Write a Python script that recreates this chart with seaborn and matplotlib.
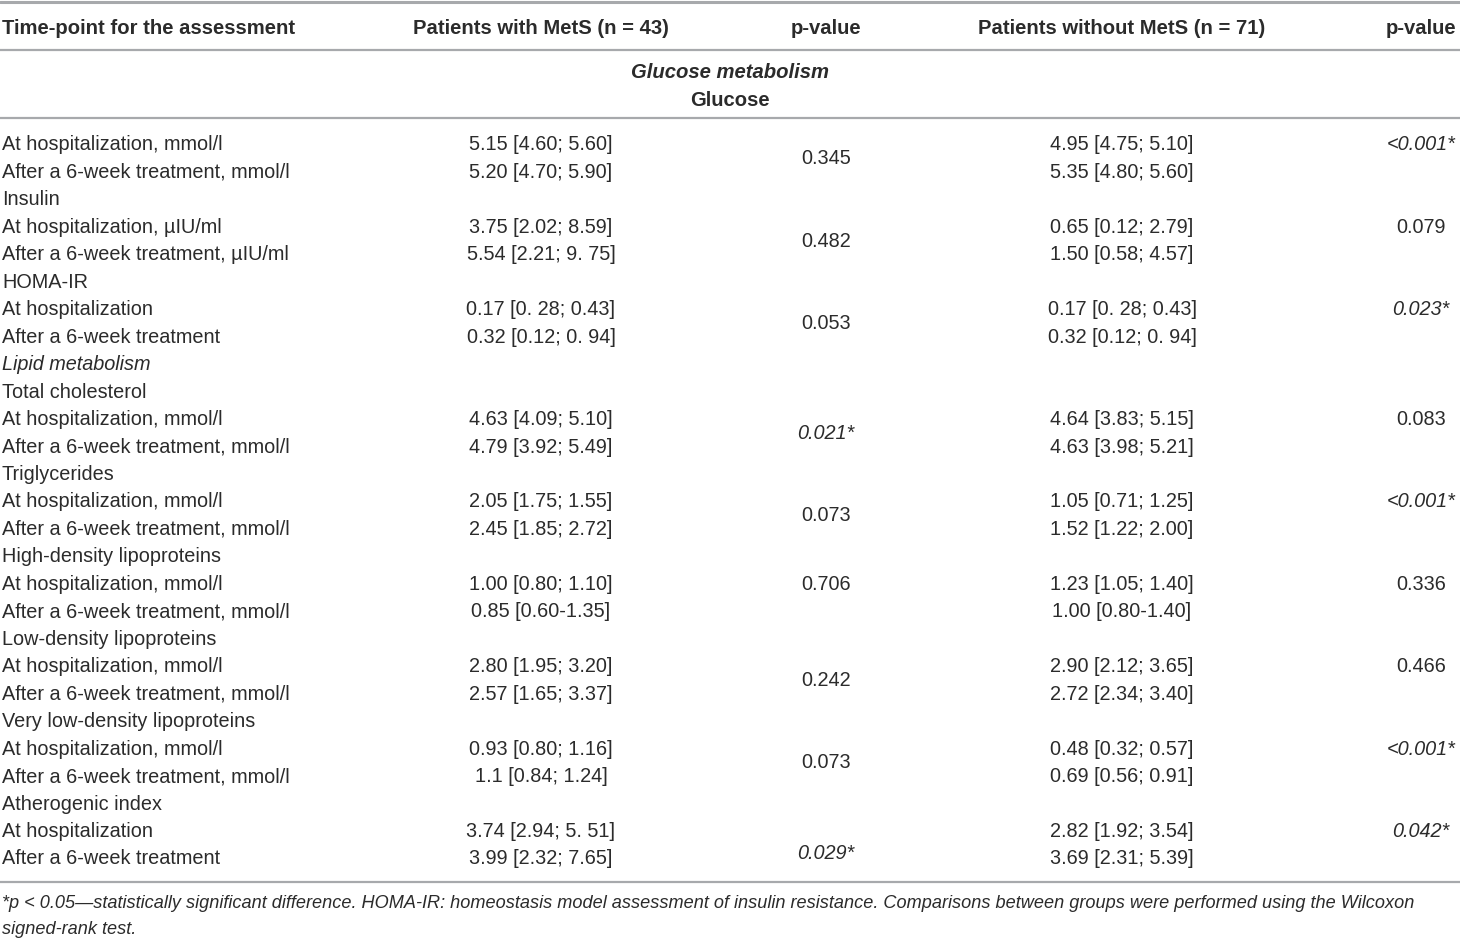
import matplotlib
matplotlib.use("Agg")
import matplotlib.pyplot as plt
import seaborn as sns

sns.set_theme(style="white")
plt.rcParams["font.family"] = ["Liberation Sans", "DejaVu Sans"]

# table content
headers = ["Time-point for the assessment", "Patients with MetS (n = 43)", "p-value",
           "Patients without MetS (n = 71)", "p-value"]

labels = [
    "At hospitalization, mmol/l", "After a 6-week treatment, mmol/l", "Insulin",
    "At hospitalization, µIU/ml", "After a 6-week treatment, µIU/ml", "HOMA-IR",
    "At hospitalization", "After a 6-week treatment", "Lipid metabolism",
    "Total cholesterol", "At hospitalization, mmol/l", "After a 6-week treatment, mmol/l",
    "Triglycerides", "At hospitalization, mmol/l", "After a 6-week treatment, mmol/l",
    "High-density lipoproteins", "At hospitalization, mmol/l", "After a 6-week treatment, mmol/l",
    "Low-density lipoproteins", "At hospitalization, mmol/l", "After a 6-week treatment, mmol/l",
    "Very low-density lipoproteins", "At hospitalization, mmol/l", "After a 6-week treatment, mmol/l",
    "Atherogenic index", "At hospitalization", "After a 6-week treatment",
]
with_mets = [
    "5.15 [4.60; 5.60]", "5.20 [4.70; 5.90]", "",
    "3.75 [2.02; 8.59]", "5.54 [2.21; 9. 75]", "",
    "0.17 [0. 28; 0.43]", "0.32 [0.12; 0. 94]", "",
    "", "4.63 [4.09; 5.10]", "4.79 [3.92; 5.49]",
    "", "2.05 [1.75; 1.55]", "2.45 [1.85; 2.72]",
    "", "1.00 [0.80; 1.10]", "0.85 [0.60-1.35]",
    "", "2.80 [1.95; 3.20]", "2.57 [1.65; 3.37]",
    "", "0.93 [0.80; 1.16]", "1.1 [0.84; 1.24]",
    "", "3.74 [2.94; 5. 51]", "3.99 [2.32; 7.65]",
]
without_mets = [
    "4.95 [4.75; 5.10]", "5.35 [4.80; 5.60]", "",
    "0.65 [0.12; 2.79]", "1.50 [0.58; 4.57]", "",
    "0.17 [0. 28; 0.43]", "0.32 [0.12; 0. 94]", "",
    "", "4.64 [3.83; 5.15]", "4.63 [3.98; 5.21]",
    "", "1.05 [0.71; 1.25]", "1.52 [1.22; 2.00]",
    "", "1.23 [1.05; 1.40]", "1.00 [0.80-1.40]",
    "", "2.90 [2.12; 3.65]", "2.72 [2.34; 3.40]",
    "", "0.48 [0.32; 0.57]", "0.69 [0.56; 0.91]",
    "", "2.82 [1.92; 3.54]", "3.69 [2.31; 5.39]",
]
# p-values: (row position, text, significant)
p_with = [(0.5, "0.345", False), (3.5, "0.482", False), (6.5, "0.053", False),
          (10.5, "0.021*", True), (13.5, "0.073", False), (16, "0.706", False),
          (19.5, "0.242", False), (22.5, "0.073", False), (25.8, "0.029*", True)]
p_without = [(0, "<0.001*", True), (3, "0.079", False), (6, "0.023*", True),
             (10, "0.083", False), (13, "<0.001*", True), (16, "0.336", False),
             (19, "0.466", False), (22, "<0.001*", True), (25, "0.042*", True)]
footnote = ["*p < 0.05\u2014statistically significant difference. HOMA-IR: homeostasis model assessment of insulin resistance. Comparisons between groups were performed using the Wilcoxon",
            "signed-rank test."]

W, H = 1460, 938
fig = plt.figure(figsize=(W / 100, H / 100), dpi=100)
ax = fig.add_axes([0, 0, 1, 1])
ax.set_xlim(0, W)
ax.set_ylim(H, 0)
ax.axis("off")

txt = "#2b2b2b"
fs = 14.3
fs_head = 14.6
col_x = [2, 541, 826, 1122, 1421]
row0, step = 145, 27.46

def ry(i):
    return row0 + i * step

# rules
for y, lw in [(2, 2.2), (50, 1.6), (118, 1.6), (882, 1.6)]:
    ax.axhline(y, color="#a7a9ac", lw=lw)

# header
for j, h in enumerate(headers):
    ax.text(col_x[j], 28, h, ha="left" if j == 0 else "center", va="center",
            fontsize=fs_head, fontweight="bold", color=txt)
ax.text(730, 73, "Glucose metabolism", ha="center", va="center", fontsize=fs_head,
        fontweight="bold", style="italic", color=txt)
ax.text(730, 100, "Glucose", ha="center", va="center", fontsize=fs_head,
        fontweight="bold", color=txt)

for i, lab in enumerate(labels):
    ax.text(col_x[0], ry(i), lab, ha="left", va="center", fontsize=fs, color=txt,
            style="italic" if lab == "Lipid metabolism" else "normal")
    ax.text(col_x[1], ry(i), with_mets[i], ha="center", va="center", fontsize=fs, color=txt)
    ax.text(col_x[3], ry(i), without_mets[i], ha="center", va="center", fontsize=fs, color=txt)

for pos, s, sig in p_with:
    ax.text(col_x[2], ry(pos), s, ha="center", va="center", fontsize=fs, color=txt,
            style="italic" if sig else "normal")
for pos, s, sig in p_without:
    ax.text(col_x[4], ry(pos), s, ha="center", va="center", fontsize=fs, color=txt,
            style="italic" if sig else "normal")

ax.text(2, 903, footnote[0], ha="left", va="center", fontsize=13.1, style="italic", color=txt)
ax.text(2, 929, footnote[1], ha="left", va="center", fontsize=13.1, style="italic", color=txt)

fig.savefig("out.png", dpi=100)
